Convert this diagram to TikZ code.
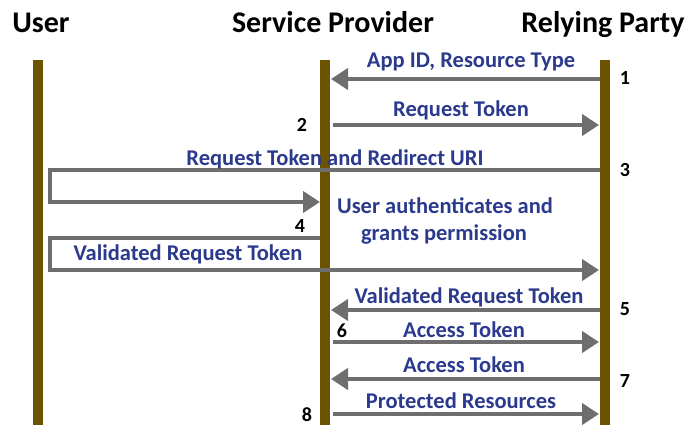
\documentclass[tikz,border=0pt]{standalone}
\usepackage{fontspec}
\setmainfont{Carlito}
\usetikzlibrary{arrows.meta}
\definecolor{lifec}{HTML}{6B5300}
\definecolor{arrc}{HTML}{6E6E6E}
\definecolor{lblc}{HTML}{2B3A8C}
\begin{document}
\begin{tikzpicture}[x=1pt,y=-1pt,
  lifeline/.style={fill=lifec, draw=none, minimum width=10pt, minimum height=365pt, inner sep=0pt},
  msg/.style={draw=arrc, line width=4pt, -{Triangle[length=17pt,width=21pt]}},
  link/.style={draw=arrc, line width=4pt},
  lbl/.style={text=lblc, font=\bfseries\fontsize{22.5}{24}\selectfont, inner sep=0pt, anchor=base},
  num/.style={font=\bfseries\fontsize{20}{22}\selectfont, inner sep=0pt, anchor=base},
  head/.style={font=\bfseries\fontsize{30}{32}\selectfont, inner sep=0pt, anchor=base}]
\useasboundingbox (0,0) rectangle (691,425);
% headings
\node[head] (hU) at (41,33) {User};
\node[head] (hS) at (333,33) {Service Provider};
\node[head] (hR) at (603,33) {Relying Party};
% lifelines
\node[lifeline] (U) at (38,242.5) {};
\node[lifeline] (S) at (325,242.5) {};
\node[lifeline] (R) at (605,242.5) {};
% coordinates
\coordinate (r1) at (600,79);  \coordinate (s1) at (331,79);
\coordinate (s2) at (333,125); \coordinate (r2) at (599,125);
\coordinate (r3) at (600,170); \coordinate (u3a) at (50,170); \coordinate (u3b) at (50,202); \coordinate (s3) at (320,202);
\coordinate (s4) at (320,238); \coordinate (u4a) at (50,238); \coordinate (u4b) at (50,270); \coordinate (r4) at (599,270);
\coordinate (r5) at (600,310); \coordinate (s5) at (331,310);
\coordinate (s6) at (333,342); \coordinate (r6) at (599,342);
\coordinate (r7) at (600,379); \coordinate (s7) at (331,379);
\coordinate (s8) at (333,414); \coordinate (r8) at (599,414);
% messages
\draw[msg] (r1) -- (s1);
\draw[msg] (s2) -- (r2);
\draw[msg] (r3) -- (u3a) -- (u3b) -- (s3);
\draw[msg] (s4) -- (u4a) -- (u4b) -- (r4);
\draw[msg] (r5) -- (s5);
\draw[msg] (s6) -- (r6);
\draw[msg] (r7) -- (s7);
\draw[msg] (s8) -- (r8);
% labels
\node[lbl] (l1) at (471,68) {App ID, Resource Type};
\node[lbl] (l2) at (461,117) {Request Token};
\node[lbl] (l3) at (335,165) {Request Token and Redirect URI};
\node[lbl] (l4a) at (445,213) {User authenticates and};
\node[lbl] (l4b) at (444,240) {grants permission};
\node[lbl] (l4) at (188,260) {Validated Request Token};
\node[lbl] (l5) at (469,303) {Validated Request Token};
\node[lbl] (l6) at (464,337) {Access Token};
\node[lbl] (l7) at (464,372) {Access Token};
\node[lbl] (l8) at (461,408) {Protected Resources};
% numbers
\node[num] (n1) at (625,85) {1};
\node[num] (n2) at (302,132) {2};
\node[num] (n3) at (625,177) {3};
\node[num] (n4) at (300,233) {4};
\node[num] (n5) at (625,315) {5};
\node[num] (n6) at (342,337) {6};
\node[num] (n7) at (625,387) {7};
\node[num] (n8) at (307,421) {8};
\end{tikzpicture}
\end{document}
